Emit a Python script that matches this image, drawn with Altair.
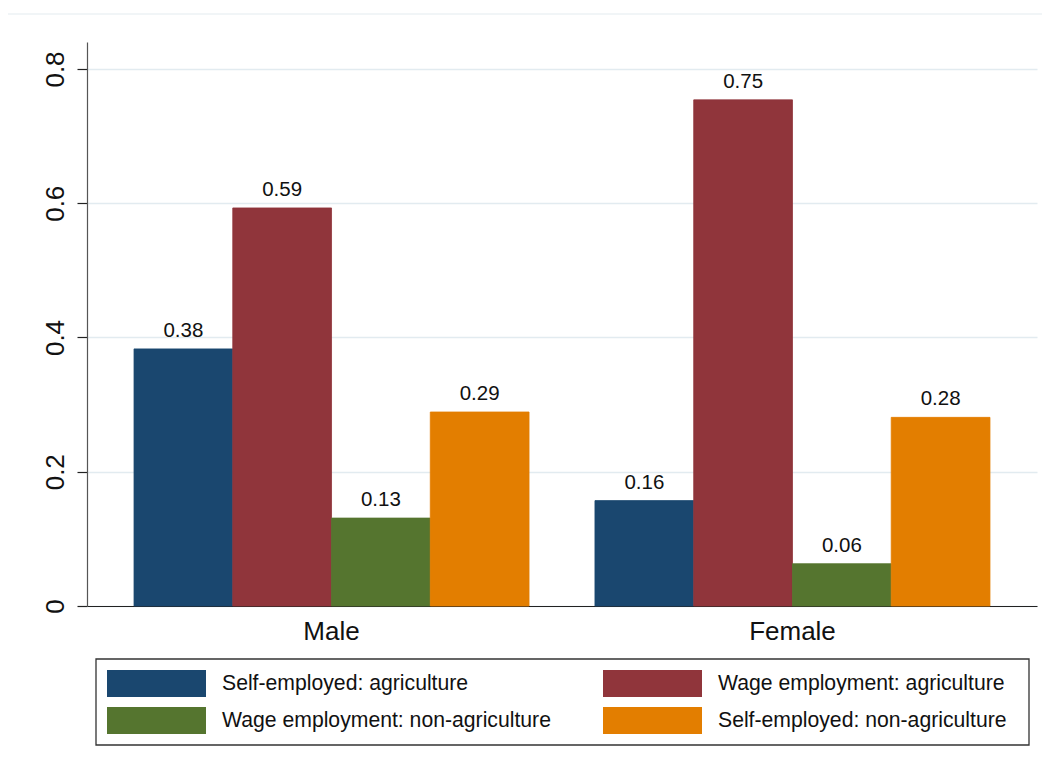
import altair as alt
import pandas as pd

groups = ["Male", "Female"]
series = [
    "Self-employed: agriculture",
    "Wage employment: agriculture",
    "Wage employment: non-agriculture",
    "Self-employed: non-agriculture",
]
self_agri = [0.383, 0.157]
wage_agri = [0.593, 0.754]
wage_nonagri = [0.131, 0.063]
self_nonagri = [0.289, 0.281]
colors = ["#1a476f", "#90353b", "#55752f", "#e37e00"]
y_ticks = [0, 0.2, 0.4, 0.6, 0.8]

rows = []
for s, vals in zip(series, [self_agri, wage_agri, wage_nonagri, self_nonagri]):
    for g, v in zip(groups, vals):
        rows.append({"group": g, "series": s, "value": v, "label": f"{v:.2f}"})
df = pd.DataFrame(rows)

FONT = "Liberation Sans"

x_enc = alt.X(
    "group:N",
    sort=groups,
    scale=alt.Scale(paddingInner=0.143, paddingOuter=0.102),
    axis=alt.Axis(
        title=None, labelAngle=0, ticks=False, labelFontSize=26, labelFont=FONT,
        labelColor="#111", labelPadding=12, domainColor="#222", domainWidth=1.2,
        grid=False,
    ),
)
y_enc = alt.Y(
    "value:Q",
    scale=alt.Scale(domain=[0, 0.8402], nice=False, zero=True),
    axis=alt.Axis(
        title=None, values=y_ticks, format=".1~f", labelAngle=270,
        labelFontSize=26, labelFont=FONT, labelColor="#111", labelPadding=9,
        tickSize=10, tickColor="#222", tickWidth=1.2, domainColor="#555",
        domainWidth=1.2, grid=True, gridColor="#e2ebf0", gridWidth=1.5,
    ),
)
xoff = alt.XOffset("series:N", sort=series, scale=alt.Scale(paddingInner=0, paddingOuter=0))
color_scale = alt.Scale(domain=series, range=colors)

bars = alt.Chart(df).mark_bar(strokeWidth=0.8).encode(
    x=x_enc,
    y=y_enc,
    xOffset=xoff,
    stroke=alt.Stroke("series:N", sort=series, scale=color_scale, legend=None),
    color=alt.Color(
        "series:N",
        sort=series,
        scale=color_scale,
        legend=alt.Legend(
            title=None, orient="none", legendX=20, legendY=628, columns=2,
            direction="horizontal",
            symbolType="M-1,-0.273L1,-0.273L1,0.273L-1,0.273Z",
            symbolSize=9801, symbolStrokeWidth=0, symbolOpacity=1,
            clipHeight=27, rowPadding=10, columnPadding=52, labelOffset=16,
            labelFontSize=21.2, labelFont=FONT, labelColor="#111", labelLimit=600,
            padding=0, strokeColor="transparent",
        ),
    ),
)

texts = alt.Chart(df).mark_text(
    baseline="alphabetic", dy=-12, fontSize=20.5, font=FONT, color="#111"
).encode(
    x=alt.X("group:N", sort=groups),
    y="value:Q",
    xOffset=alt.XOffset("series:N", sort=series),
    text="label:N",
)

one = pd.DataFrame({"k": [0]})
top_line = alt.Chart(one).mark_rule(color="#edf2f4", strokeWidth=1.5).encode(
    x=alt.value(-79), x2=alt.value(955), y=alt.value(-28)
)
legend_box = alt.Chart(one).mark_rect(
    fillOpacity=0, stroke="#333", strokeWidth=1.3
).encode(
    x=alt.value(9), x2=alt.value(942), y=alt.value(617), y2=alt.value(703)
)

chart = alt.layer(bars, texts, top_line, legend_box).properties(
    width=950,
    height=564,
    autosize=alt.AutoSizeParams(type="none"),
    padding={"left": 79, "top": 34, "right": 5, "bottom": 160},
    background="white",
).configure_view(stroke=None)

chart.save("out.html", embed_options={"renderer": "svg", "actions": False})
